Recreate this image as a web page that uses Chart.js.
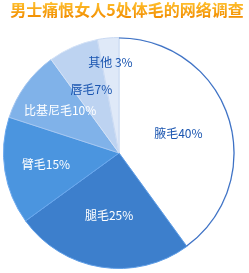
<!DOCTYPE html>
<html>
<head>
<meta charset="utf-8">
<script src="https://cdn.jsdelivr.net/npm/chart.js@4"></script>
<style>
  html, body { margin: 0; padding: 0; background: #fff; }
  #wrap { width: 249px; height: 273px; }
</style>
</head>
<body>
<div id="wrap"><canvas id="pie" width="249" height="273"></canvas></div>
<script>
const titleText = "男士痛恨女人5处体毛的网络调查";
const labels = ["腋毛", "腿毛", "臂毛", "比基尼毛", "唇毛", "其他"];
const values = [40, 25, 15, 10, 7, 3];
const valueText = ["40%", "25%", "15%", "10%", "7%", " 3%"];

const sliceColors = ["#ffffff", "#3d7fcc", "#4b95df", "#80b2e9", "#bdd3f1", "#dfe9f8"];
const edgeColors = ["#d0dff4", "#5e9de6", "#6aa8ee", "#a6c7f0", "#d4e2f6", "#c9d9f2"];
const textColors = ["#1a55b0", "#ffffff", "#ffffff", "#ffffff", "#1a55b0", "#1a55b0"];
const labelRadius = [0.54, 0.55, 0.64, 0.63, 0.6, 0.79];

const ctx = document.getElementById("pie");

const pieText = {
  id: "pieText",
  afterDraw(chart) {
    const c = chart.ctx;
    c.save();
    // blue rim on the white slice only
    const first = chart.getDatasetMeta(0).data[0].getProps(["x", "y", "startAngle", "endAngle", "outerRadius"], true);
    c.strokeStyle = "#3c70c4";
    c.lineWidth = 1.2;
    c.beginPath();
    c.arc(first.x, first.y, first.outerRadius - 0.5, first.startAngle, first.endAngle);
    c.stroke();

    // title
    c.font = "bold 16px 'Noto Sans CJK SC'";
    c.textAlign = "center";
    c.textBaseline = "middle";
    const g = c.createLinearGradient(0, 2, 0, 18);
    g.addColorStop(0, "#ffc12e");
    g.addColorStop(1, "#f18c00");
    c.fillStyle = g;
    c.fillText(titleText, 127, 10);

    // slice labels
    c.font = "12px 'Noto Sans CJK SC'";
    chart.getDatasetMeta(0).data.forEach((arc, i) => {
      const p = arc.getProps(["x", "y", "startAngle", "endAngle", "outerRadius"], true);
      const mid = (p.startAngle + p.endAngle) / 2;
      const r = p.outerRadius * labelRadius[i];
      c.fillStyle = textColors[i];
      c.fillText(labels[i] + valueText[i], p.x + Math.cos(mid) * r, p.y + Math.sin(mid) * r);
    });
    c.restore();
  }
};

new Chart(ctx, {
  type: "pie",
  data: {
    labels: labels,
    datasets: [
      {
        data: values,
        backgroundColor: sliceColors,
        borderColor: edgeColors,
        borderWidth: 1,
        hoverOffset: 0
      }
    ]
  },
  options: {
    responsive: false,
    animation: false,
    events: [],
    layout: {
      padding: { top: 37, bottom: 4, left: 3, right: 14 }
    },
    plugins: {
      legend: { display: false },
      tooltip: { enabled: false },
      title: { display: false }
    }
  },
  plugins: [pieText]
});
</script>
</body>
</html>
